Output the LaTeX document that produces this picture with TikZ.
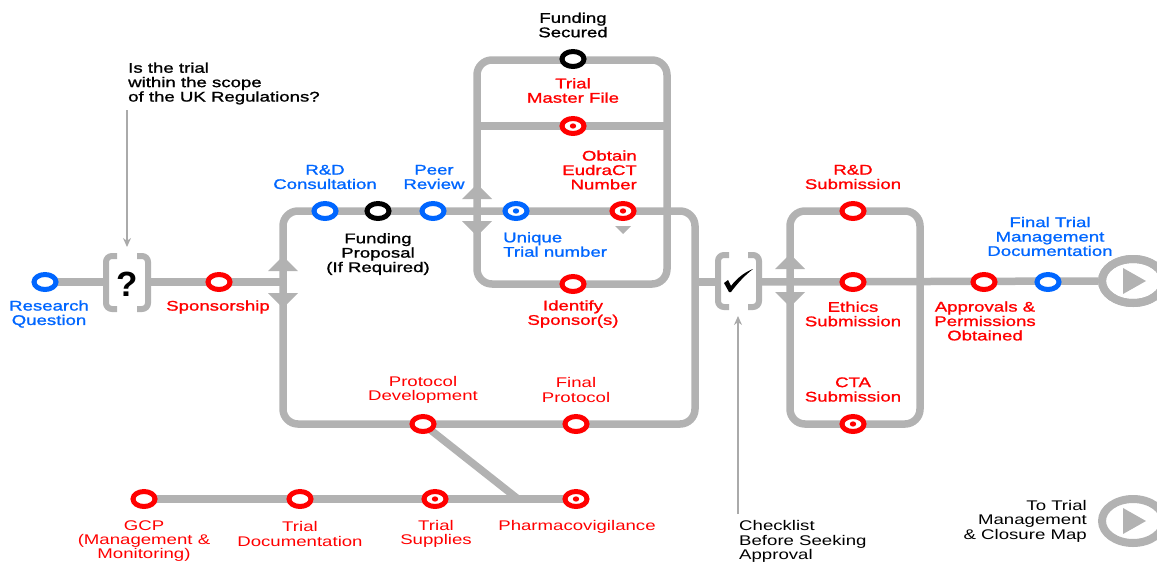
\documentclass[tikz,border=0pt]{standalone}
\usepackage{fontspec}
\setmainfont{Liberation Sans}[FakeStretch=1.33]
\newfontfamily\heavylbl{Liberation Sans}[FakeStretch=1.33, FakeBold=1.2]
\newfontfamily\qfont{Liberation Sans}
\usetikzlibrary{shapes.geometric,arrows.meta}
\definecolor{tgray}{RGB}{178,178,178}
\definecolor{pgray}{RGB}{170,170,170}
\definecolor{tred}{RGB}{255,0,0}
\definecolor{tblue}{RGB}{0,102,255}
\newcommand\lblfont{\fontsize{14}{14.4}\selectfont}
\newcommand\hlblfont{\heavylbl\fontsize{14}{14.4}\selectfont}
\tikzset{
  track/.style={draw=tgray, line width=7.5pt, rounded corners=15pt},
  stn/.style={ellipse, draw=#1, line width=5pt, fill=white, minimum width=22pt, minimum height=15pt, inner sep=0pt},
  dstn/.style={stn=#1, path picture={\fill[#1] (path picture bounding box.center) ellipse [x radius=3.2pt, y radius=2.6pt];}},
  lbl/.style={align=center, inner sep=0pt, text=#1, font=\lblfont},
  hlbl/.style={align=center, inner sep=0pt, text=#1, font=\hlblfont},
  bracketline/.style={draw=tgray, line width=6pt, rounded corners=6pt},
  pointer/.style={draw=pgray, line width=1.4pt, -{Stealth[length=9pt,width=8pt]}},
  playring/.style={ellipse, draw=tgray, line width=8pt, minimum width=62pt, minimum height=44pt, inner sep=0pt},
  flowtip/.style={fill=tgray},
}
\begin{document}
\begin{tikzpicture}[x=1pt,y=-1pt]
\useasboundingbox (0,0) rectangle (1157,563);
\clip (0,0) rectangle (1157,563);

% ---------- coordinates ----------
\coordinate (qL) at (106,282);
\coordinate (qR) at (148,282);
\coordinate (J1) at (283,282);
\coordinate (L1) at (283,211);
\coordinate (L2) at (695,424);
\coordinate (J2) at (695,282);
\coordinate (U1) at (477,60);
\coordinate (U2) at (667,284);
\coordinate (UM1) at (477,126);
\coordinate (UM2) at (667,126);
\coordinate (cL) at (718,282);
\coordinate (cR) at (759,282);
\coordinate (R1) at (790,211);
\coordinate (R2) at (920,424);
\coordinate (Jb) at (518,499);

% ---------- end rings ----------
\node[playring] (ring1) at (1133,281) {};
\node[playring] (ring2) at (1133,521) {};

% ---------- tracks ----------
\draw[track] (45,282) -- (qL);
\draw[track] (qR) -- (J1);
\draw[track] (L1) rectangle (L2);
\draw[track] (U1) rectangle (U2);
\draw[track] (UM1) -- (UM2);
\draw[track] (J2) -- (cL);
\draw[track] (cR) -- (ring1.west);
\draw[track] (R1) rectangle (R2);
\draw[track] (423,424) -- (Jb);
\draw[track] (144,499) -- (576,499);

\node[playring] at (ring1) {};
\fill[tgray] ([shift={(-10,-13)}]ring1.center) -- ([shift={(-10,13)}]ring1.center) -- ([shift={(13,0)}]ring1.center) -- cycle;
\fill[tgray] ([shift={(-10,-13)}]ring2.center) -- ([shift={(-10,13)}]ring2.center) -- ([shift={(13,0)}]ring2.center) -- cycle;

% ---------- direction arrows ----------
\fill[flowtip] (283,256) -- (298,271) -- (268,271) -- cycle;
\fill[flowtip] (283,308) -- (298,293) -- (268,293) -- cycle;
\fill[flowtip] (477,184) -- (492,199) -- (462,199) -- cycle;
\fill[flowtip] (477,236) -- (492,221) -- (462,221) -- cycle;
\fill[flowtip] (790,254) -- (805,269) -- (775,269) -- cycle;
\fill[flowtip] (790,307) -- (805,292) -- (775,292) -- cycle;
\fill[flowtip] (615,226) -- (631,226) -- (623,234) -- cycle;

% ---------- brackets ----------
\draw[bracketline] (117,256) -- (106,256) -- (106,309) -- (117,309);
\draw[bracketline] (137,256) -- (148,256) -- (148,309) -- (137,309);
\node[inner sep=0pt] (qm) at (127,284) {\qfont\bfseries\fontsize{35}{35}\selectfont ?};
\draw[bracketline] (729,255) -- (718,255) -- (718,307) -- (729,307);
\draw[bracketline] (748,255) -- (759,255) -- (759,307) -- (748,307);
\coordinate (chk) at (739,281);
\fill[black] (724,283) -- (728,280) -- (731,286) .. controls (737,278) and (745,272) .. (753,269) .. controls (744,276) and (737,284) .. (731,292) -- (729,292) -- cycle;

% ---------- pointers ----------
\coordinate (qtop) at (127,110);
\coordinate (qtip) at (127,247);
\coordinate (ctop) at (738,514);
\coordinate (ctip) at (738,316);
\draw[pointer] (qtop) -- (qtip);
\draw[pointer] (ctop) -- (ctip);

% ---------- stations ----------
\node[stn=tblue] (rq) at (45,282) {};
\node[stn=tred] (spons) at (219,282) {};
\node[stn=tblue] (rdc) at (325,211) {};
\node[stn=black] (fp) at (378,211) {};
\node[stn=tblue] (peer) at (433,211) {};
\node[dstn=tblue] (utn) at (516,211) {};
\node[dstn=tred] (eudra) at (623,211) {};
\node[stn=black] (fs) at (573,59) {};
\node[dstn=tred] (tmf) at (573,126) {};
\node[stn=tred] (isp) at (573,284) {};
\node[stn=tred] (pdev) at (423,424) {};
\node[stn=tred] (fprot) at (576,424) {};
\node[stn=tred] (gcp) at (144,499) {};
\node[stn=tred] (tdoc) at (300,499) {};
\node[dstn=tred] (tsup) at (435,499) {};
\node[dstn=tred] (pharm) at (576,499) {};
\node[stn=tred] (rds) at (853,211) {};
\node[stn=tred] (eth) at (853,282) {};
\node[dstn=tred] (cta) at (853,424) {};
\node[stn=tred] (appr) at (984,282) {};
\node[stn=tblue] (ftm) at (1048,282) {};

% ---------- labels ----------
\node[hlbl=tblue] (lrq) at (49,314) {Research\\Question};
\node[hlbl=black, align=left, anchor=west] (lq) at (128,83.5) {Is the trial\\within the scope\\of the UK Regulations?};
\node[hlbl=tred] (lspons) at (218,307) {Sponsorship};
\node[hlbl=tblue] (lrdc) at (325,177) {R\&D\\Consultation};
\node[hlbl=black] (lfp) at (378,254) {Funding\\Proposal\\(If Required)};
\node[hlbl=tblue] (lpeer) at (434,177) {Peer\\Review};
\node[hlbl=black] (lfs) at (573,25) {Funding\\Secured};
\node[hlbl=tred] (ltmf) at (573,90.5) {Trial\\Master File};
\node[hlbl=tred, align=right, anchor=east] (leudra) at (637,170) {Obtain\\EudraCT\\Number};
\node[hlbl=tblue, align=left, anchor=west] (lutn) at (503,244.5) {Unique\\Trial number};
\node[hlbl=tred] (lisp) at (573,314) {Identify\\Sponsor(s)};
\node[lbl=tred] (lpdev) at (423,390) {Protocol\\Development};
\node[lbl=tred] (lfprot) at (576,390) {Final\\Protocol};
\node[lbl=tred] (lgcp) at (144,541) {GCP\\(Management \&\\Monitoring)};
\node[lbl=tred] (ltdoc) at (300,534) {Trial\\Documentation};
\node[lbl=tred] (ltsup) at (436,534) {Trial\\Supplies};
\node[lbl=tred] (lpharm) at (577,527) {Pharmacovigilance};
\node[lbl=black, align=left, anchor=west] (lchk) at (739,541.5) {Checklist\\Before Seeking\\Approval};
\node[hlbl=tred] (lrds) at (853,177) {R\&D\\Submission};
\node[hlbl=tred] (leth) at (853,314) {Ethics\\Submission};
\node[hlbl=tred] (lcta) at (853,389.5) {CTA\\Submission};
\node[hlbl=tred] (lappr) at (985,321) {Approvals \&\\Permissions\\Obtained};
\node[hlbl=tblue] (lftm) at (1050,236.5) {Final Trial\\Management\\Documentation};
\node[lbl=black, align=right, anchor=east] (lnext) at (1087,521) {To Trial\\Management\\\& Closure Map};
\end{tikzpicture}
\end{document}
